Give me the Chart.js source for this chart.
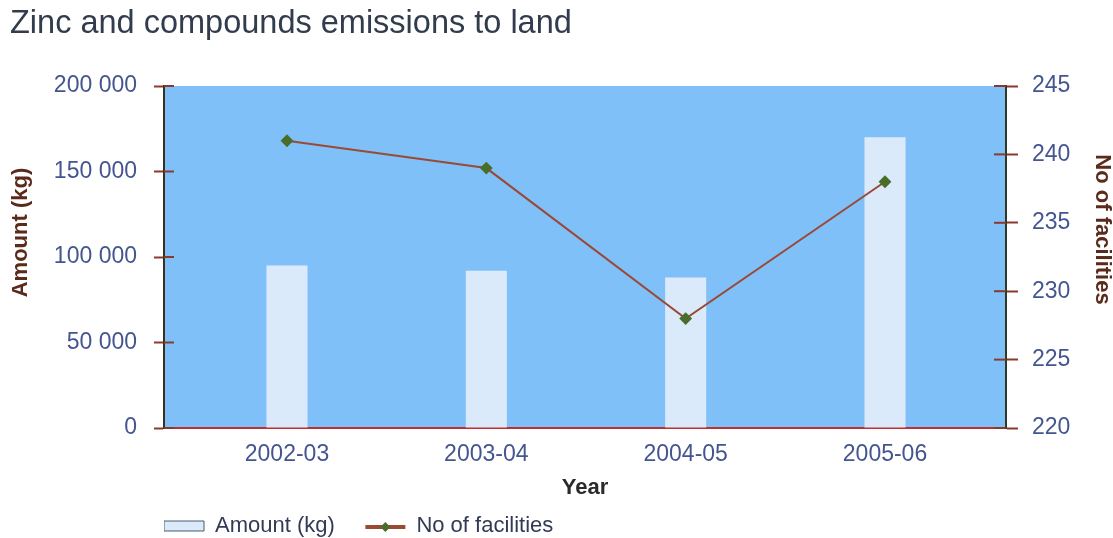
<!DOCTYPE html>
<html>
<head>
<meta charset="utf-8">
<script src="https://cdn.jsdelivr.net/npm/chart.js@4/dist/chart.umd.min.js"></script>
<style>
  html, body { margin: 0; padding: 0; background: #fff; }
  #wrap { width: 1113px; height: 538px; }
</style>
</head>
<body>
<div id="wrap"><canvas id="mycanvas"></canvas></div>
<script>
var years = ['2002-03', '2003-04', '2004-05', '2005-06'];
var amountKg = [95000, 92000, 88000, 170000];
var facilities = [241, 239, 228, 238];
var amountTicks = [0, 50000, 100000, 150000, 200000];
var facilityTicks = [220, 225, 230, 235, 240, 245];

var labelColor = '#44558f';
var titleColor = '#5a2a1a';
var lineColor = '#9a4a34';
var markerColor = '#4a6e2a';
var tickColor = '#8a3a2a';

// light blue plot background
var plotBg = {
  id: 'plotBg',
  beforeDraw: function(chart) {
    var a = chart.chartArea, c = chart.ctx;
    c.save();
    c.fillStyle = '#80c0f8';
    c.fillRect(a.left, a.top, a.right - a.left, a.bottom - a.top);
    c.restore();
  }
};

// legend under the plot a bit to the right, crossing tick marks, line legend symbol
var extras = {
  id: 'extras',
  afterLayout: function(chart) {
    chart.legend.left = 164;
    chart.legend.top = 515;
    chart.legend.right = chart.width;
    chart.legend.legendHitBoxes.forEach(function(hb) { hb.top = 0; });
    chart.legend.adjustHitBoxes();
  },
  afterDraw: function(chart) {
    var c = chart.ctx;
    c.save();
    [['y', 10], ['y1', -12]].forEach(function(p) {
      var s = chart.scales[p[0]];
      var x0 = p[0] === 'y' ? s.right : s.left;
      c.strokeStyle = tickColor;
      c.lineWidth = 2;
      s.ticks.forEach(function(t) {
        var yy = s.getPixelForValue(t.value);
        c.beginPath();
        c.moveTo(x0, yy);
        c.lineTo(x0 + p[1], yy);
        c.stroke();
      });
    });
    var lg = chart.legend;
    lg.legendItems.forEach(function(it, i) {
      if (it.datasetIndex !== 1) return;
      var hb = lg.legendHitBoxes[i];
      var bw = lg.options.labels.boxWidth;
      var cy = lg.top + 11 + 1;
      c.strokeStyle = lineColor;
      c.lineWidth = 4;
      c.beginPath();
      c.moveTo(hb.left, cy);
      c.lineTo(hb.left + bw, cy);
      c.stroke();
      c.fillStyle = markerColor;
      var mx = hb.left + bw / 2;
      c.beginPath();
      c.moveTo(mx, cy - 5);
      c.lineTo(mx + 5, cy);
      c.lineTo(mx, cy + 5);
      c.lineTo(mx - 5, cy);
      c.closePath();
      c.fill();
    });
    c.restore();
  }
};

var ctx = document.getElementById('mycanvas');

var chart = new Chart(ctx, {
  data: {
    datasets: [
      {
        type: 'bar',
        label: 'Amount (kg)     ',
        data: amountKg.map(function(v, i) { return { x: i, y: v }; }),
        yAxisID: 'y',
        order: 2,
        backgroundColor: '#dbeafb',
        borderWidth: 0,
        barPercentage: 0.206,
        categoryPercentage: 1.0
      },
      {
        type: 'line',
        label: 'No of facilities',
        data: facilities.map(function(v, i) { return { x: i, y: v }; }),
        yAxisID: 'y1',
        order: 1,
        borderColor: lineColor,
        backgroundColor: lineColor,
        borderWidth: 2,
        pointStyle: 'rectRot',
        pointRadius: 5,
        pointBackgroundColor: markerColor,
        pointBorderColor: markerColor,
        tension: 0
      }
    ]
  },
  options: {
    responsive: true,
    maintainAspectRatio: false,
    animation: false,
    layout: { padding: { left: 10, right: 0, top: 0, bottom: 0 } },
    plugins: {
      title: {
        display: true,
        text: 'Zinc and compounds emissions to land',
        align: 'start',
        color: '#333c4c',
        font: { family: 'Liberation Sans', size: 32.5, weight: 'normal', lineHeight: 1.2 },
        padding: { top: 5, bottom: 42 }
      },
      legend: {
        position: 'bottom',
        align: 'start',
        reverse: true,
        labels: {
          color: '#333a55',
          font: { family: 'Liberation Sans', size: 22 },
          boxWidth: 40,
          boxHeight: 10,
          padding: 0,
          generateLabels: function(chart) {
            var items = Chart.defaults.plugins.legend.labels.generateLabels(chart);
            items.forEach(function(it) {
              if (it.datasetIndex === 0) {
                it.fillStyle = '#dbeafb';
                it.strokeStyle = '#4a5a6a';
                it.lineWidth = 1;
              } else {
                it.fillStyle = 'rgba(0,0,0,0)';
                it.strokeStyle = 'rgba(0,0,0,0)';
              }
            });
            return items;
          }
        }
      },
      tooltip: { enabled: false }
    },
    scales: {
      x: {
        type: 'linear',
        offset: false,
        bounds: 'data',
        min: -0.617,
        max: 3.607,
        afterBuildTicks: function(scale) {
          scale.ticks = years.map(function(y, i) { return { value: i }; });
        },
        afterFit: function(scale) { scale.height = 78; },
        ticks: {
          color: labelColor,
          font: { family: 'Liberation Sans', size: 23 },
          padding: 13,
          autoSkip: false,
          maxRotation: 0,
          callback: function(v) { return years[v]; }
        },
        grid: { display: false, drawTicks: false, offset: false },
        border: { color: '#c03030', width: 2 },
        title: {
          display: true,
          text: 'Year',
          color: '#2a2a2a',
          font: { family: 'Liberation Sans', size: 22, weight: 'bold', lineHeight: 1.2 },
          padding: { top: 0, bottom: 5 }
        }
      },
      y: {
        position: 'left',
        min: 0,
        max: 200000,
        afterBuildTicks: function(scale) {
          scale.ticks = amountTicks.map(function(v) { return { value: v }; });
        },
        afterFit: function(scale) { scale.width = 154; },
        ticks: {
          color: labelColor,
          font: { family: 'Liberation Sans', size: 23 },
          padding: 17,
          callback: function(v) { return v.toString().replace(/\B(?=(\d{3})+(?!\d))/g, ' '); }
        },
        grid: { drawOnChartArea: false, color: tickColor, tickLength: 10, tickWidth: 2 },
        border: { color: '#3a3020', width: 2 },
        title: {
          display: true,
          text: '        Amount (kg)',
          color: titleColor,
          font: { family: 'Liberation Sans', size: 22, weight: 'bold', lineHeight: 1.0 },
          padding: { top: 0, bottom: 0 }
        }
      },
      y1: {
        position: 'right',
        min: 220,
        max: 245,
        afterBuildTicks: function(scale) {
          scale.ticks = facilityTicks.map(function(v) { return { value: v }; });
        },
        afterFit: function(scale) { scale.width = 107; },
        ticks: {
          color: labelColor,
          font: { family: 'Liberation Sans', size: 23 },
          padding: 14
        },
        grid: { drawOnChartArea: false, color: tickColor, tickLength: 12, tickWidth: 2 },
        border: { color: '#2e3a24', width: 2 },
        title: {
          display: true,
          text: 'No of facilities         ',
          color: titleColor,
          font: { family: 'Liberation Sans', size: 22, weight: 'bold', lineHeight: 1.0 },
          padding: { top: 0, bottom: 0 }
        }
      }
    }
  },
  plugins: [plotBg, extras]
});
</script>
</body>
</html>
